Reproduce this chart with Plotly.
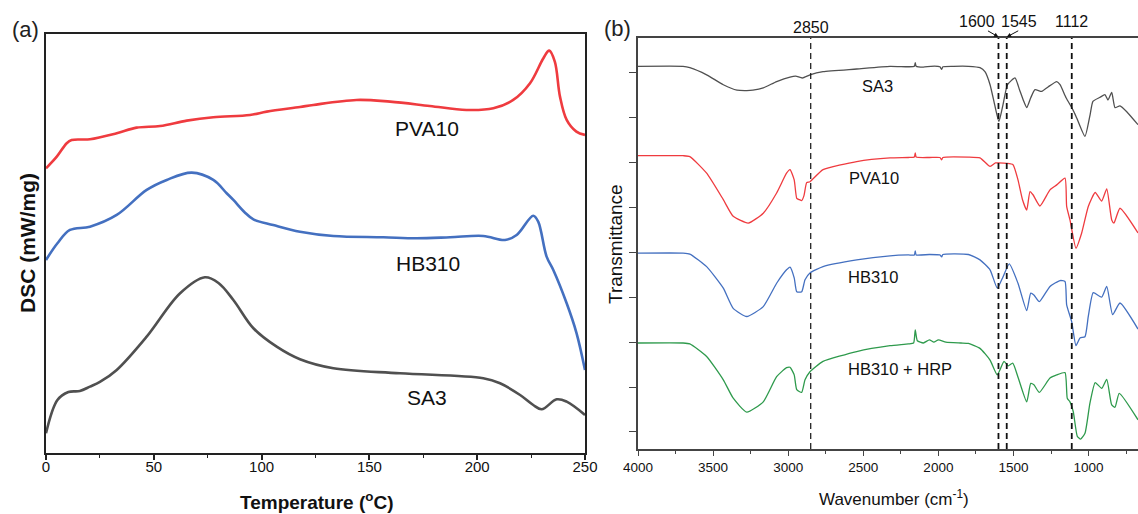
import plotly.graph_objects as go

# ---------------- (a) DSC thermograms ----------------
temp_pva10 = [0, 5, 9.6, 11.9, 20.4, 32.8, 42, 52.9, 65.3, 77.6, 94.6, 102.4, 117.8, 124, 144,
              159.6, 178, 195, 207.5, 216.7, 224.5, 230.7, 233.4, 236, 238.4, 241.5, 246, 250]
dsc_pva10 = [67.96, 70.73, 73.93, 74.71, 74.88, 76.31, 77.65, 78.05, 79.32, 80.13, 80.68, 81.47,
             82.59, 83.07, 84.26, 83.86, 82.83, 81.87, 82.28, 84.26, 88.25, 94.22, 96.03, 93.40,
             85.05, 79.49, 76.70, 75.91]

temp_hb310 = [0, 5.3, 11.1, 20.4, 32.8, 46.7, 56, 67.6, 77.6, 83.8, 86.9, 92, 96.2, 105.4, 117.8,
              133.3, 156.5, 171.9, 187.4, 202.8, 212.9, 218.3, 226, 228.3, 232.2, 235.3, 241.5,
              246.1, 250]
dsc_hb310 = [46.07, 50.06, 53.23, 54.02, 56.81, 62.78, 65.17, 66.91, 65.17, 61.99, 60.39, 57.53,
             55.78, 54.42, 52.82, 51.80, 51.49, 51.25, 51.49, 51.80, 50.84, 52.04, 56.64, 55.21,
             46.86, 43.68, 35.73, 28.57, 19.81]

temp_sa3 = [0, 5.3, 10.4, 15.7, 20.4, 25, 32.8, 46.7, 62.2, 73.7, 80, 86.9, 96.2, 107, 117.8,
            133.3, 164.2, 202.8, 210.6, 219.9, 226, 229.9, 236.9, 241.5, 250]
dsc_sa3 = [4.70, 12.65, 14.56, 14.80, 15.83, 16.95, 19.81, 27.76, 38.12, 41.94, 40.58, 36.52,
           29.77, 25.37, 22.37, 20.22, 19.02, 17.83, 16.64, 13.84, 11.46, 10.43, 12.82, 12.25,
           9.07]

# ---------------- (b) FTIR spectra (offset, a.u.) ----------------
wn_sa3 = [4000, 3700, 3655, 3543, 3432, 3341, 3276, 3235, 3166, 3077, 2988, 2950, 2906, 2855,
          2768, 2544, 2322, 2200, 2160, 2154, 2148, 2100, 2050, 1990, 1978, 1970, 1900, 1800,
          1723, 1690, 1656, 1625, 1597, 1570, 1540, 1490, 1460, 1435, 1412, 1385, 1357, 1312,
          1270, 1212, 1190, 1150, 1104, 1079, 1024, 990, 971, 924, 891, 871, 846, 824, 791,
          746, 671]
tr_sa3 = [8.14, 8.14, 8.11, 7.95, 7.73, 7.61, 7.60, 7.61, 7.66, 7.80, 7.90, 7.92, 7.88, 7.95,
          8.02, 8.08, 8.14, 8.13, 8.14, 8.22, 8.14, 8.12, 8.14, 8.13, 8.07, 8.13, 8.14, 8.14,
          8.11, 8.02, 7.73, 7.28, 6.91, 7.28, 7.73, 7.88, 7.62, 7.39, 7.22, 7.44, 7.62, 7.58,
          7.68, 7.80, 7.73, 7.44, 7.17, 6.99, 6.58, 7.06, 7.36, 7.45, 7.51, 7.39, 7.56, 7.22,
          7.26, 7.13, 6.84]

wn_pva10 = [4000, 3700, 3655, 3543, 3432, 3366, 3266, 3166, 3077, 3011, 2988, 2960, 2943, 2925,
            2910, 2895, 2877, 2855, 2768, 2544, 2322, 2200, 2160, 2154, 2148, 2060, 1990, 1978,
            1970, 1800, 1723, 1656, 1620, 1600, 1545, 1503, 1470, 1440, 1412, 1390, 1370, 1324,
            1257, 1212, 1157, 1146, 1124, 1084, 1046, 1002, 956, 913, 879, 846, 831, 791, 671]
tr_pva10 = [6.15, 6.15, 6.13, 5.76, 5.17, 4.80, 4.65, 4.87, 5.32, 5.76, 5.84, 5.61, 5.20, 5.17,
            5.15, 5.26, 5.55, 5.57, 5.84, 6.02, 6.10, 6.11, 6.12, 6.21, 6.12, 6.11, 6.11, 6.06,
            6.11, 6.12, 6.10, 5.91, 5.99, 5.99, 5.98, 5.95, 5.61, 5.17, 4.94, 5.35, 5.28, 5.03,
            5.39, 5.50, 5.65, 5.02, 4.72, 4.09, 4.43, 5.02, 5.33, 5.14, 5.41, 4.72, 4.65, 4.98,
            4.43]

wn_hb310 = [4000, 3700, 3655, 3543, 3432, 3366, 3276, 3166, 3077, 3011, 2988, 2960, 2943, 2910,
            2888, 2855, 2768, 2544, 2322, 2200, 2160, 2154, 2148, 2060, 1990, 1978, 1970, 1800,
            1723, 1656, 1608, 1570, 1528, 1470, 1412, 1385, 1364, 1328, 1257, 1190, 1157, 1146,
            1113, 1084, 1057, 1024, 1002, 969, 913, 879, 840, 791, 671]
tr_hb310 = [3.98, 3.98, 3.96, 3.68, 3.20, 2.75, 2.57, 2.79, 3.31, 3.61, 3.67, 3.43, 3.12, 3.12,
            3.39, 3.54, 3.68, 3.83, 3.92, 3.94, 3.94, 4.03, 3.94, 3.95, 3.94, 3.90, 3.95, 3.95,
            3.83, 3.61, 3.20, 3.45, 3.74, 3.31, 2.70, 3.09, 3.05, 2.90, 3.24, 3.37, 3.35, 2.83,
            2.46, 1.92, 2.09, 2.12, 2.57, 3.10, 3.00, 3.24, 2.61, 2.87, 2.29]

wn_hrp = [4000, 3700, 3655, 3543, 3432, 3366, 3276, 3166, 3077, 3011, 2988, 2960, 2943, 2910,
          2888, 2855, 2768, 2544, 2322, 2200, 2165, 2154, 2140, 2100, 2060, 2030, 2000, 1950,
          1850, 1800, 1723, 1656, 1608, 1563, 1535, 1505, 1468, 1412, 1385, 1364, 1328, 1257,
          1212, 1157, 1142, 1124, 1102, 1075, 1053, 1024, 991, 956, 913, 879, 846, 824, 796, 671]
tr_hrp = [1.98, 1.98, 1.96, 1.68, 1.16, 0.75, 0.44, 0.67, 1.23, 1.43, 1.44, 1.27, 0.94, 0.88,
          1.16, 1.34, 1.57, 1.79, 1.92, 1.96, 1.98, 2.27, 2.03, 1.98, 2.05, 2.00, 2.05, 2.00,
          1.98, 1.97, 1.86, 1.60, 1.27, 1.57, 1.47, 1.53, 1.20, 0.67, 1.08, 1.05, 0.88, 1.20,
          1.27, 1.32, 0.75, 0.67, 0.45, -0.10, -0.16, -0.03, 0.64, 1.10, 0.97, 1.17, 0.60, 0.55,
          0.86, 0.27]

marker_bands = [2850, 1600, 1545, 1112]
marker_labels = ["2850", "1600", "1545", "1112"]

RED = "#ef3b3f"
BLUE = "#4470c0"
GRAY = "#505050"
GREEN = "#2e9a4c"

SANS = "Liberation Sans, Arial, sans-serif"

fig = go.Figure()

for t, v, c in [(temp_pva10, dsc_pva10, RED), (temp_hb310, dsc_hb310, BLUE), (temp_sa3, dsc_sa3, GRAY)]:
    fig.add_trace(go.Scatter(x=t, y=v, mode="lines", xaxis="x", yaxis="y",
                             line=dict(color=c, width=2.6, shape="spline", smoothing=1.0),
                             showlegend=False, hoverinfo="skip"))

for w, v, c in [(wn_sa3, tr_sa3, GRAY), (wn_pva10, tr_pva10, RED), (wn_hb310, tr_hb310, BLUE), (wn_hrp, tr_hrp, GREEN)]:
    fig.add_trace(go.Scatter(x=w, y=v, mode="lines", xaxis="x2", yaxis="y2",
                             line=dict(color=c, width=1.3, shape="spline", smoothing=0.5),
                             showlegend=False, hoverinfo="skip"))

W, H = 1138, 514
ax_a = dict(l=46, r=585, t=34, b=453)
ax_b = dict(l=638, r=1138, t=38, b=449)

fig.update_layout(
    width=W, height=H, autosize=False,
    margin=dict(l=0, r=0, t=0, b=0, pad=0, autoexpand=False),
    paper_bgcolor="white", plot_bgcolor="white", showlegend=False,
    font=dict(family=SANS, color="#111"),
    xaxis=dict(domain=[ax_a["l"] / W, ax_a["r"] / W], range=[0, 250], tickvals=[0, 50, 100, 150, 200, 250],
               ticks="outside", ticklen=5, tickwidth=1.5, tickcolor="#222",
               minor=dict(tickvals=[25, 75, 125, 175, 225], ticks="outside", ticklen=3, tickwidth=1.2, tickcolor="#222"),
               showline=True, linecolor="#222", linewidth=2, mirror=True, showgrid=False, zeroline=False,
               tickfont=dict(family=SANS, size=15, color="#111"), ticklabelstandoff=-6,
               automargin=False, anchor="y"),
    yaxis=dict(domain=[1 - ax_a["b"] / H, 1 - ax_a["t"] / H], range=[0, 100],
               showticklabels=False, ticks="", showline=True, linecolor="#222", linewidth=2, mirror=True,
               showgrid=False, zeroline=False, automargin=False, anchor="x"),
    xaxis2=dict(domain=[ax_b["l"] / W, 1.0], range=[4000, 671],
                tickvals=[4000, 3500, 3000, 2500, 2000, 1500, 1000],
                ticks="outside", ticklen=5, tickwidth=1.3, tickcolor="#444",
                minor=dict(tickvals=[3750, 3250, 2750, 2250, 1750, 1250, 750], ticks="outside", ticklen=3,
                           tickwidth=1.1, tickcolor="#444"),
                showline=True, linecolor="#444", linewidth=1.5, mirror=True, showgrid=False, zeroline=False,
                tickfont=dict(family=SANS, size=13.5, color="#111"),
                automargin=False, anchor="y2"),
    yaxis2=dict(domain=[1 - ax_b["b"] / H, 1 - ax_b["t"] / H], range=[-0.38, 8.77],
                tickvals=[0, 1, 2, 3, 4, 5, 6, 7, 8], showticklabels=False,
                ticks="outside", ticklen=7, tickwidth=1.2, tickcolor="#444",
                showline=True, linecolor="#444", linewidth=1.5, mirror=False, showgrid=False, zeroline=False,
                automargin=False, anchor="x2"),
)

# dashed band markers
for band in marker_bands:
    thin = band == 2850
    fig.add_shape(type="line", xref="x2", yref="y2 domain", x0=band, x1=band, y0=0, y1=1,
                  line=dict(color="#111", width=1.2 if thin else 1.8, dash="6px,4px"))

def px(xp, yp, yanchor="middle"):
    return dict(x=xp / W, y=1 - yp / H, xref="paper", yref="paper", xanchor="center", yanchor=yanchor)

ann = []
# panel tags
ann.append(dict(text="(a)", font=dict(family=SANS, size=22, color="#222"), showarrow=False, **px(25, 29)))
ann.append(dict(text="(b)", font=dict(family=SANS, size=22, color="#222"), showarrow=False, **px(617, 28)))
# axis titles
ann.append(dict(text="<b>Temperature (<sup>o</sup>C)</b>", font=dict(family=SANS, size=19, color="#111"),
                showarrow=False, borderpad=0, **px(316, 514, "bottom")))
ann.append(dict(text="<b>DSC (mW/mg)</b>", font=dict(family=SANS, size=21, color="#111"), textangle=-90,
                showarrow=False, **px(27, 243)))
ann.append(dict(text="Wavenumber (cm<sup>-1</sup>)", font=dict(family=SANS, size=17, color="#111"),
                showarrow=False, **px(894, 498)))
ann.append(dict(text="Transmittance", font=dict(family=SANS, size=19, color="#111"), textangle=-90,
                showarrow=False, **px(615, 244)))
# curve names, panel a
for name, xp, yp in [("PVA10", 427, 128), ("HB310", 428, 263), ("SA3", 427, 397)]:
    ann.append(dict(text=name, font=dict(family=SANS, size=21, color="#111"), showarrow=False, **px(xp, yp)))
# curve names, panel b
for name, xp, yp in [("SA3", 877, 86), ("PVA10", 874, 178), ("HB310", 873, 277), ("HB310 + HRP", 900, 369)]:
    ann.append(dict(text=name, font=dict(family=SANS, size=16.5, color="#111"), showarrow=False, **px(xp, yp)))
# band labels: 2850 and 1112 sit directly above their lines, 1600/1545 are offset with pointers
for band, lab in zip(marker_bands, marker_labels):
    if lab in ("2850", "1112"):
        ypix = 27 if lab == "2850" else 22
        ann.append(dict(text=lab, x=band, y=1 - ypix / H, xref="x2", yref="paper",
                        xanchor="center", yanchor="middle", showarrow=False,
                        font=dict(family=SANS, size=16, color="#111")))
label_pos = {"1600": (977, 22), "1545": (1019, 22)}
for lab, (xp, yp) in label_pos.items():
    ann.append(dict(text=lab, font=dict(family=SANS, size=16, color="#111"), showarrow=False, **px(xp, yp)))
# small pointers from the 1600 / 1545 labels to their lines (offsets in pixels)
for band, dx in [(1600, -12), (1545, 13)]:
    ann.append(dict(text="", x=band, y=1 - 37 / H, xref="x2", yref="paper",
                    ax=dx, ay=-7, axref="pixel", ayref="pixel",
                    showarrow=True, arrowhead=2, arrowsize=0.9, arrowwidth=1, arrowcolor="#111"))

fig.update_layout(annotations=ann)
fig.write_html("out.html")
